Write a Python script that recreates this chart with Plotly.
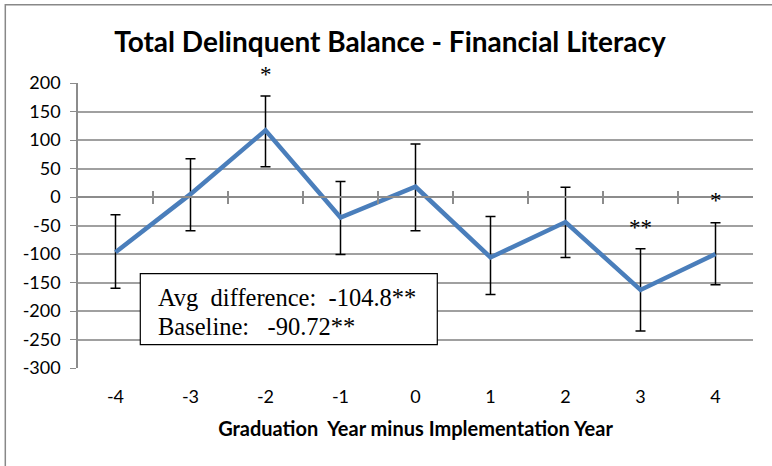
import plotly.graph_objects as go

# graduation year minus implementation year
years = [-4, -3, -2, -1, 0, 1, 2, 3, 4]
balance = [-97, 5, 117, -36, 18, -106, -44, -163, -100]
err_plus = [66, 62, 60, 63, 75, 72, 61, 72, 55]
err_minus = [63, 64, 64, 65, 77, 65, 62, 72, 54]

y_ticks = [200, 150, 100, 50, 0, -50, -100, -150, -200, -250, -300]

# significance markers (year, label, y position)
stars = [(-2, "*", 240), (3, "**", -53), (4, "*", -7)]

Y_MIN, Y_MAX = -300, 200
tick_font = dict(family="Lato", size=18, color="black")

fig = go.Figure()
fig.add_trace(go.Scatter(
    x=years,
    y=balance,
    mode="lines",
    line=dict(color="#4a7ebb", width=4.5),
    error_y=dict(
        type="data",
        symmetric=False,
        array=err_plus,
        arrayminus=err_minus,
        color="black",
        thickness=1.5,
        width=5,
    ),
    showlegend=False,
))

for yr, lbl, ypos in stars:
    # paper y so the top star above the range is not hidden
    fig.add_annotation(
        x=yr, xref="x", y=(ypos - Y_MIN) / (Y_MAX - Y_MIN), yref="paper",
        text=lbl, showarrow=False,
        font=dict(family="Liberation Serif", size=23, color="black"),
    )

# stats box
fig.add_shape(
    type="rect", xref="paper", yref="paper",
    x0=(140 - 77.7) / 675, x1=(437 - 77.7) / 675,
    y0=(368.3 - 345) / 285, y1=(368.3 - 274) / 285,
    line=dict(color="black", width=1.2), fillcolor="white", layer="above",
)
fig.add_annotation(
    xref="paper", yref="paper", x=(156 - 77.7) / 675, y=(368.3 - 298) / 285,
    xanchor="left", yanchor="middle", showarrow=False,
    text="Avg  difference:  -104.8**",
    font=dict(family="Liberation Serif", size=24.5, color="black"),
)
fig.add_annotation(
    xref="paper", yref="paper", x=(156 - 77.7) / 675, y=(368.3 - 327) / 285,
    xanchor="left", yanchor="middle", showarrow=False,
    text="Baseline:   -90.72**",
    font=dict(family="Liberation Serif", size=24.5, color="black"),
)

# outer chart border (left and top visible)
fig.add_shape(
    type="rect", xref="paper", yref="paper",
    x0=(5 - 77.7) / 675, x1=(790 - 77.7) / 675,
    y0=(368.3 - 490) / 285, y1=(368.3 - 5) / 285,
    line=dict(color="#888888", width=1.5), layer="below",
)

fig.update_layout(
    width=772,
    height=466,
    paper_bgcolor="white",
    plot_bgcolor="white",
    margin=dict(l=77.7, r=19.3, t=83.3, b=97.7),
    title=dict(
        text="<b>Total Delinquent Balance - Financial Literacy</b>",
        x=390 / 772, xanchor="center",
        y=1 - 42 / 466, yanchor="middle",
        font=dict(family="Lato", size=28, color="black"),
    ),
    xaxis=dict(
        range=[-4.5, 4.5],
        tickvals=years,
        ticktext=[str(v) for v in years],
        tickfont=tick_font,
        showgrid=False,
        zeroline=False,
        showline=False,
        ticks="",
        ticklabelstandoff=16,
        title=dict(
            text="<b>Graduation  Year minus Implementation Year</b>",
            font=dict(family="Lato", size=20, color="black"),
            standoff=15,
        ),
    ),
    xaxis2=dict(
        overlaying="x", matches="x", anchor="free", position=0.6,
        tickvals=[-3.5, -2.5, -1.5, -0.5, 0.5, 1.5, 2.5, 3.5],
        showticklabels=False, showgrid=False, zeroline=False,
        showline=True, linecolor="#8c8c8c", linewidth=2,
        ticks="outside", ticklen=6, tickcolor="#8c8c8c", tickwidth=1.5,
    ),
    xaxis3=dict(
        overlaying="x", matches="x", anchor="free", position=0.6,
        tickvals=[-3.5, -2.5, -1.5, -0.5, 0.5, 1.5, 2.5, 3.5],
        showticklabels=False, showgrid=False, zeroline=False,
        showline=False,
        ticks="inside", ticklen=6, tickcolor="#8c8c8c", tickwidth=1.5,
    ),
    yaxis=dict(
        range=[Y_MIN, Y_MAX],
        tickvals=y_ticks,
        ticktext=[str(v) for v in y_ticks],
        tickfont=tick_font,
        showgrid=True,
        gridcolor="#a0a0a0",
        gridwidth=1.5,
        zeroline=False,
        showline=True,
        linecolor="#8c8c8c",
        linewidth=1.5,
        ticks="outside",
        ticklen=6,
        tickcolor="#8c8c8c",
        ticklabelstandoff=6,
    ),
)

# empty traces so the overlay tick axes get drawn
fig.add_trace(go.Scatter(x=[None], y=[None], xaxis="x2", showlegend=False))
fig.add_trace(go.Scatter(x=[None], y=[None], xaxis="x3", showlegend=False))

fig.write_html(
    "out.html",
    config={"displayModeBar": False},
    post_script="document.body.style.margin='0';",
)
